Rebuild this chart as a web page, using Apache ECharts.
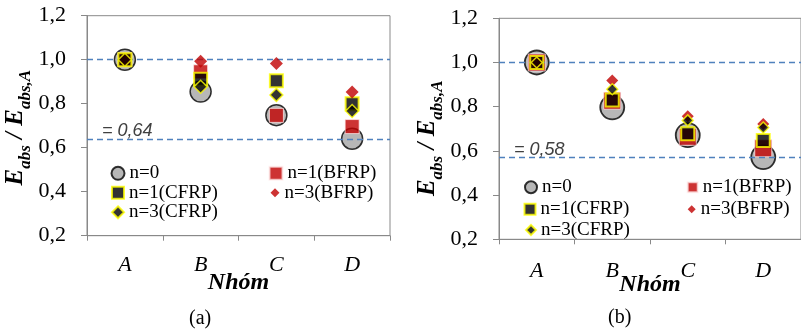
<!DOCTYPE html>
<html>
<head>
<meta charset="utf-8">
<script src="https://cdn.jsdelivr.net/npm/echarts@6/dist/echarts.min.js"></script>
<style>html,body{margin:0;padding:0;background:#fff;}#c{width:801px;height:332px;}</style>
</head>
<body>
<div id="c"></div>
<script>
// ---- data ----
const categories = ['A', 'B', 'C', 'D'];
const seriesNames = ['n=0', 'n=1(BFRP)', 'n=1(CFRP)', 'n=3(BFRP)', 'n=3(CFRP)'];
// panel (a)
const a_n0  = [1.000, 0.855, 0.748, 0.641];
const a_n1B = [1.000, 0.945, 0.747, 0.696];
const a_n1C = [1.000, 0.911, 0.904, 0.800];
const a_n3B = [1.000, 0.993, 0.983, 0.853];
const a_n3C = [1.000, 0.877, 0.840, 0.767];
const a_refLines = [1.005, 0.637];
const a_refLabel = '= 0,64';
// panel (b)
const b_n0  = [1.000, 0.797, 0.671, 0.572];
const b_n1B = [1.000, 0.827, 0.664, 0.612];
const b_n1C = [1.000, 0.830, 0.678, 0.647];
const b_n3B = [1.000, 0.918, 0.757, 0.722];
const b_n3C = [1.000, 0.879, 0.738, 0.706];
const b_refLines = [0.998, 0.570];
const b_refLabel = '= 0,58';
const yMin = 0.2, yMax = 1.2, yStep = 0.2;
const captions = ['(a)', '(b)'];
const xTitle = 'Nhóm';

// ---- styles ----
const SERIF = 'Liberation Serif';
const AX = '#898989';
const styleA = [
  {symbol: 'circle', size: 21, item: {color: '#a5a5a5', borderColor: '#000', borderWidth: 1.5}},
  {symbol: 'rect', size: 14, item: {color: '#c00000', borderColor: 'rgba(255,235,235,0.9)', borderWidth: 1}},
  {symbol: 'rect', size: 13, item: {color: '#000', borderColor: '#ffff00', borderWidth: 2}},
  {symbol: 'diamond', size: 13, item: {color: '#c00000', borderWidth: 0}},
  {symbol: 'diamond', size: 13, item: {color: '#000', borderColor: '#ffff00', borderWidth: 1.5}}
];
const styleB = [
  {symbol: 'circle', size: 24, item: {color: '#a5a5a5', borderColor: '#000', borderWidth: 1.8}},
  {symbol: 'rect', size: 17, item: {color: '#c00000', borderColor: 'rgba(255,235,235,0.9)', borderWidth: 1}},
  {symbol: 'rect', size: 13, item: {color: '#000', borderColor: '#ffff00', borderWidth: 2}},
  {symbol: 'diamond', size: 12, item: {color: '#c00000', borderWidth: 0}},
  {symbol: 'diamond', size: 11, item: {color: '#000', borderColor: '#ffff00', borderWidth: 1.5}}
];
const dataA = [a_n0, a_n1B, a_n1C, a_n3B, a_n3C];
const dataB = [b_n0, b_n1B, b_n1C, b_n3B, b_n3C];

function fmt(v) { return v.toFixed(1).replace('.', ','); }

function xAxisFor(idx, labelSize, nameSize, nameGap, margin) {
  return {
    type: 'category', gridIndex: idx, data: categories, boundaryGap: true,
    axisLine: {show: true, lineStyle: {color: AX, width: 1}},
    axisTick: {show: true, length: 5, lineStyle: {color: AX}},
    axisLabel: {fontFamily: SERIF, fontStyle: 'italic', fontSize: labelSize, color: '#000', margin: margin},
    splitLine: {show: false},
    name: xTitle, nameLocation: 'middle', nameGap: nameGap, nameMoveOverlap: false,
    nameTextStyle: {fontFamily: SERIF, fontStyle: 'italic', fontWeight: 'bold', fontSize: nameSize, color: '#000'}
  };
}
function yAxisFor(idx, nameGap, pad) {
  return {
    type: 'value', gridIndex: idx, min: yMin, max: yMax, interval: yStep,
    axisLine: {show: true, lineStyle: {color: AX, width: 1}},
    axisTick: {show: true, length: 6, lineStyle: {color: AX}},
    axisLabel: {fontFamily: SERIF, fontSize: 22, color: '#000', margin: 21, formatter: fmt},
    splitLine: {show: false},
    name: '{e|E}{s|abs}{e| / E}{s|abs,A}', nameLocation: 'middle', nameGap: nameGap,
    nameTextStyle: {
      fontFamily: SERIF, fontStyle: 'italic', fontWeight: 'bold', color: '#000', padding: pad,
      rich: {
        e: {fontFamily: SERIF, fontStyle: 'italic', fontWeight: 'bold', fontSize: 25, color: '#000', padding: [0, 0, 7, 0], verticalAlign: 'top'},
        s: {fontFamily: SERIF, fontStyle: 'italic', fontWeight: 'bold', fontSize: 17, color: '#000', verticalAlign: 'bottom'}
      }
    }
  };
}

const series = [];
function addPanel(idx, data, styles, refLines, refLabel) {
  data.forEach((vals, i) => {
    const st = styles[i];
    const s = {
      name: seriesNames[i], type: 'scatter', xAxisIndex: idx, yAxisIndex: idx,
      symbol: st.symbol, symbolSize: st.size, itemStyle: st.item,
      data: vals, z: 3 + i, emphasis: {disabled: true}
    };
    if (i === 0) {
      s.markLine = {
        silent: true, symbol: ['none', 'none'], animation: false,
        lineStyle: {color: '#4f81bd', type: [6, 4], width: 1.3},
        data: refLines.map((v, k) => ({
          yAxis: v,
          label: k === 1 ? {show: true, position: 'insideStartTop', formatter: refLabel, distance: [15, -1],
            fontFamily: 'Liberation Sans', fontStyle: 'italic', fontSize: 18, color: '#404040'} : {show: false}
        }))
      };
    }
    series.push(s);
  });
}
addPanel(0, dataA, styleA, a_refLines, a_refLabel);
addPanel(1, dataB, styleB, b_refLines, b_refLabel);

function leg(name, icon, size, left, top) {
  return {
    data: [{name: name, icon: icon}], left: left, top: top, padding: 0,
    itemWidth: size, itemHeight: size, selectedMode: false,
    textStyle: {fontFamily: SERIF, fontSize: 19, color: '#000', lineHeight: 20}
  };
}
const legends = [
  leg('n=0', 'circle', 13, 110.5, 163.3),
  leg('n=1(CFRP)', 'rect', 12, 111, 182.7),
  leg('n=3(CFRP)', 'diamond', 12, 111, 202.3),
  leg('n=1(BFRP)', 'rect', 13, 268.5, 163.3),
  leg('n=3(BFRP)', 'diamond', 9, 270.5, 182.7),
  leg('n=0', 'circle', 12, 524, 177.3),
  leg('n=1(CFRP)', 'rect', 11, 523.5, 199.3),
  leg('n=3(CFRP)', 'diamond', 10, 525, 220),
  leg('n=1(BFRP)', 'rect', 10, 686.7, 177.3),
  leg('n=3(BFRP)', 'diamond', 8, 687.7, 199.3)
];

const chart = echarts.init(document.getElementById('c'), null, {renderer: 'canvas'});
chart.setOption({
  animation: false,
  backgroundColor: '#fff',
  grid: [
    {left: 87, top: 15.7, width: 303, height: 220, show: true, borderColor: AX, borderWidth: 1, containLabel: false},
    {left: 499, top: 18.3, width: 307, height: 221, show: true, borderColor: AX, borderWidth: 1, containLabel: false}
  ],
  xAxis: [xAxisFor(0, 22, 24, 35, 19), xAxisFor(1, 22, 24, 33, 21)],
  yAxis: [yAxisFor(0, 49, [0, 4, 0, 0]), yAxisFor(1, 52, [0, 19, 0, 0])],
  legend: legends,
  series: series,
  graphic: [
    {type: 'text', left: 189, top: 309, style: {text: captions[0], font: '20px "Liberation Serif"', fill: '#000'}},
    {type: 'text', left: 608, top: 308, style: {text: captions[1], font: '20px "Liberation Serif"', fill: '#000'}}
  ]
});
</script>
</body>
</html>
